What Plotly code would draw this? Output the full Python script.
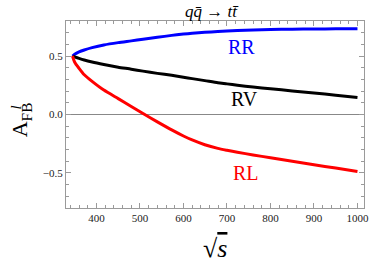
import plotly.graph_objects as go

# --- data ---
sqrt_s = [345, 350, 360, 372, 390, 417, 450, 480, 507, 540, 573, 600, 620, 649, 679, 700, 724, 760, 800, 850, 900, 950, 1000]
afb_RR = [0.500, 0.515, 0.535, 0.552, 0.572, 0.595, 0.615, 0.630, 0.644, 0.660, 0.677, 0.688, 0.695, 0.703, 0.710,
          0.715, 0.719, 0.723, 0.727, 0.730, 0.732, 0.733, 0.734]
afb_RV = [0.500, 0.493, 0.480, 0.466, 0.449, 0.428, 0.405, 0.388, 0.371, 0.352, 0.335, 0.318, 0.307, 0.290, 0.272,
          0.262, 0.250, 0.235, 0.220, 0.202, 0.184, 0.165, 0.145]
afb_RL = [0.500, 0.447, 0.395, 0.340, 0.284, 0.209, 0.136, 0.069, 0.008, -0.063, -0.132, -0.184, -0.218, -0.259, -0.290,
          -0.306, -0.323, -0.346, -0.370, -0.400, -0.430, -0.458, -0.488]

x_tickvals = [400, 500, 600, 700, 800, 900, 1000]
x_ticktext = ["400", "500", "600", "700", "800", "900", "1000"]
y_tickvals = [-0.5, 0.0, 0.5]
y_ticktext = ["\u22120.5", "0.0", "0.5"]

series = [
    ("RR", afb_RR, "#0000ff", 733, 0.58),
    ("RV", afb_RV, "#000000", 740, 0.134),
    ("RL", afb_RL, "#ff0000", 744, -0.50),
]

FONT = "Liberation Serif, Times New Roman, serif"
AXC = "#9a9a9a"

fig = go.Figure()
for name, ys, col, lx, ly in series:
    fig.add_trace(go.Scatter(x=sqrt_s, y=ys, mode="lines", name=name,
                             line=dict(color=col, width=3, shape="spline", smoothing=0.6),
                             showlegend=False, hoverinfo="skip"))

annotations = []
for name, ys, col, lx, ly in series:
    annotations.append(dict(x=lx, y=ly, xref="x", yref="y", text=name, showarrow=False,
                            xanchor="center", yanchor="middle",
                            font=dict(family=FONT, size=20, color=col)))


def px_x(p):
    return (p - 65.5) / 303.5


def px_y(p):
    return (208 - p) / 187


# titles
annotations.append(dict(x=px_x(214), y=px_y(11), xref="paper", yref="paper", xanchor="center", yanchor="middle",
                        text="<i>q</i><i>q\u0304</i> \u2192 <i>t</i><i>t\u0304</i>", showarrow=False,
                        font=dict(family=FONT, size=17, color="#000")))
annotations.append(dict(x=px_x(217), y=px_y(248), xref="paper", yref="paper", xanchor="center", yanchor="middle",
                        text="\u221a<span style='text-decoration:overline'><i>s</i></span>", showarrow=False,
                        font=dict(family=FONT, size=26, color="#000")))
annotations.append(dict(x=px_x(20), y=px_y(120), xref="paper", yref="paper", xanchor="center", yanchor="middle",
                        text="A<sub>FB</sub>", textangle=-90, showarrow=False,
                        font=dict(family=FONT, size=22, color="#000")))
annotations.append(dict(x=px_x(15), y=px_y(107), xref="paper", yref="paper", xanchor="center", yanchor="middle",
                        text="<i>l</i>", textangle=-90, showarrow=False,
                        font=dict(family=FONT, size=15, color="#000")))

fig.update_layout(
    width=374, height=264,
    margin=dict(l=66, r=5, t=21, b=56),
    paper_bgcolor="white", plot_bgcolor="white",
    font=dict(family=FONT, size=11, color="#222"),
    annotations=annotations,
    xaxis=dict(range=[330, 1015], tickvals=x_tickvals, ticktext=x_ticktext,
               showgrid=False, zeroline=False, showline=True, linecolor=AXC, linewidth=1,
               mirror="allticks", ticks="inside", ticklen=5, tickcolor=AXC,
               ticklabeloverflow="allow",
               minor=dict(dtick=20, tick0=0, ticks="inside", ticklen=3, tickcolor=AXC),
               tickfont=dict(family=FONT, size=11, color="#222")),
    yaxis=dict(range=[-0.8, 0.8], tickvals=y_tickvals, ticktext=y_ticktext,
               showgrid=False, zeroline=True, zerolinecolor="#888", zerolinewidth=1,
               showline=True, linecolor=AXC, linewidth=1,
               mirror="allticks", ticks="inside", ticklen=5, tickcolor=AXC,
               minor=dict(dtick=0.1, tick0=0, ticks="inside", ticklen=3, tickcolor=AXC),
               tickfont=dict(family=FONT, size=11, color="#222")),
)

fig.write_html("out.html", config={"displayModeBar": False},
               post_script="document.body.style.margin='0';")
